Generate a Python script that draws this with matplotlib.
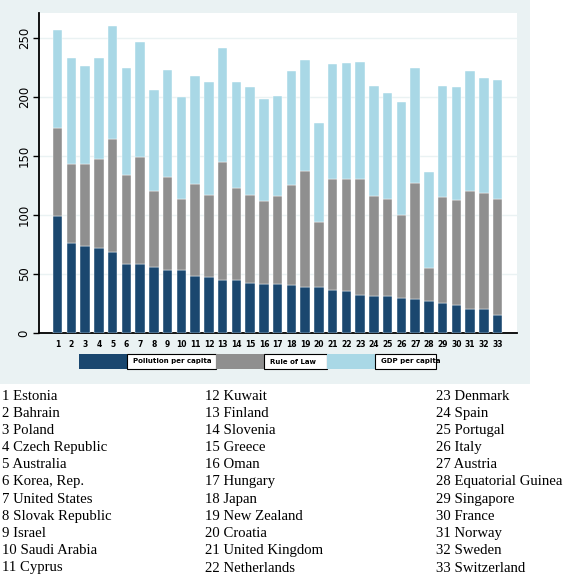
import numpy as np
import matplotlib.pyplot as plt
from matplotlib.patches import Rectangle

countries = ["Estonia", "Bahrain", "Poland", "Czech Republic", "Australia", "Korea, Rep.",
             "United States", "Slovak Republic", "Israel", "Saudi Arabia", "Cyprus",
             "Kuwait", "Finland", "Slovenia", "Greece", "Oman", "Hungary", "Japan",
             "New Zealand", "Croatia", "United Kingdom", "Netherlands", "Denmark", "Spain",
             "Portugal", "Italy", "Austria", "Equatorial Guinea", "Singapore", "France",
             "Norway", "Sweden", "Switzerland"]

# cumulative tops
pollution = [99, 76.4, 73.8, 72, 68.5, 58.3, 58.3, 55.8, 53.6, 53.6, 48.2, 47, 44.5, 44.5,
             42, 41.4, 41.4, 40.3, 38.9, 38.9, 36.6, 35.2, 32.1, 31, 31, 29.9, 28.7, 27.3,
             25.4, 24, 20.6, 20.6, 15.2]
rule_top = [174, 143.5, 143.5, 147, 164, 134, 149, 120, 132, 113.6, 126.5, 117.2, 144.6,
            122.9, 117.2, 111.6, 116, 125, 137.5, 93.6, 130.5, 130.5, 130.5, 116, 113.6,
            100, 127, 55, 115, 112.7, 120, 118.7, 113.6]
gdp_top = [257, 233, 226, 233, 259.6, 224, 246.6, 206, 223, 200, 218, 212.8, 241, 212.8,
           208.3, 198, 201, 221.8, 230.8, 177.6, 227.7, 228.6, 229.7, 209.4, 203.5, 195.9,
           224, 136.4, 209.4, 208, 221.8, 216, 214]
series_names = ["Pollution per capita", "Rule of Law", "GDP per capita"]
yticks = [0, 50, 100, 150, 200, 250]

pollution = np.array(pollution)
rule = np.array(rule_top) - pollution
gdp = np.array(gdp_top) - np.array(rule_top)

navy = "#1a476f"
grey = "#8f8f8f"
ltblue = "#a9d8e6"
bg = "#eaf2f3"

fig = plt.figure(figsize=(5.64, 5.85), dpi=100)
fig.patches.append(Rectangle((0, 0.3436), 0.9397, 0.6564, transform=fig.transFigure,
                             facecolor=bg, edgecolor="none", zorder=-5))

ax = fig.add_axes([0.0691, 0.4308, 0.8475, 0.547])
ax.set_zorder(2)
ax.set_facecolor("white")
x = np.arange(1, len(countries) + 1)
w = 0.69
ax.bar(x, pollution, w, color=navy, edgecolor="white", linewidth=0.3, zorder=3)
ax.bar(x, rule, w, bottom=pollution, color=grey, edgecolor="white", linewidth=0.3, zorder=3)
ax.bar(x, gdp, w, bottom=np.array(rule_top), color=ltblue, edgecolor="white",
       linewidth=0.3, zorder=3)

ax.set_xlim(-0.36, 34.4)
ax.set_ylim(0, 271)
ax.set_yticks(yticks)
ax.set_yticklabels([str(v) for v in yticks], rotation=90, va="center", fontsize=8.5)
ax.set_xticks(x)
ax.set_xticklabels([str(i) for i in x], fontsize=5.5, fontweight="bold")
ax.tick_params(axis="x", length=0, pad=5)
ax.tick_params(axis="y", length=4, width=1, pad=2)
ax.grid(axis="y", color=bg, linewidth=1, zorder=0)
ax.set_axisbelow(True)
for s in ["top", "right"]:
    ax.spines[s].set_visible(False)
ax.spines["left"].set_linewidth(1.3)
ax.spines["bottom"].set_linewidth(1.3)

# legend strip
lx = [79, 127, 216, 264, 327, 375, 436]
cols = [navy, grey, ltblue]
y0 = 1 - 369 / 585
h = 15 / 585
for i in range(3):
    a, b, c = lx[2 * i], lx[2 * i + 1], lx[2 * i + 2]
    fig.patches.append(Rectangle((a / 564, y0), (b - a) / 564, h, transform=fig.transFigure,
                                 facecolor=cols[i], edgecolor="none", zorder=2))
    fig.patches.append(Rectangle((b / 564, y0), (c - b) / 564, h, transform=fig.transFigure,
                                 facecolor="white", edgecolor="black", linewidth=0.8, zorder=2))
    fig.text((b + 6) / 564, y0 + h / 2, series_names[i], fontsize=5, fontweight="bold",
             va="center", ha="left", zorder=3)

# country key
col_x = [2, 205, 436]
for i, name in enumerate(countries):
    col = i // 11
    row = i % 11
    ypix = 396 + row * 17.2
    fig.text(col_x[col] / 564, 1 - ypix / 585, f"{i + 1} {name}", fontsize=10.6,
             family="Liberation Serif", va="center", ha="left")

fig.savefig("out.png", dpi=100)
